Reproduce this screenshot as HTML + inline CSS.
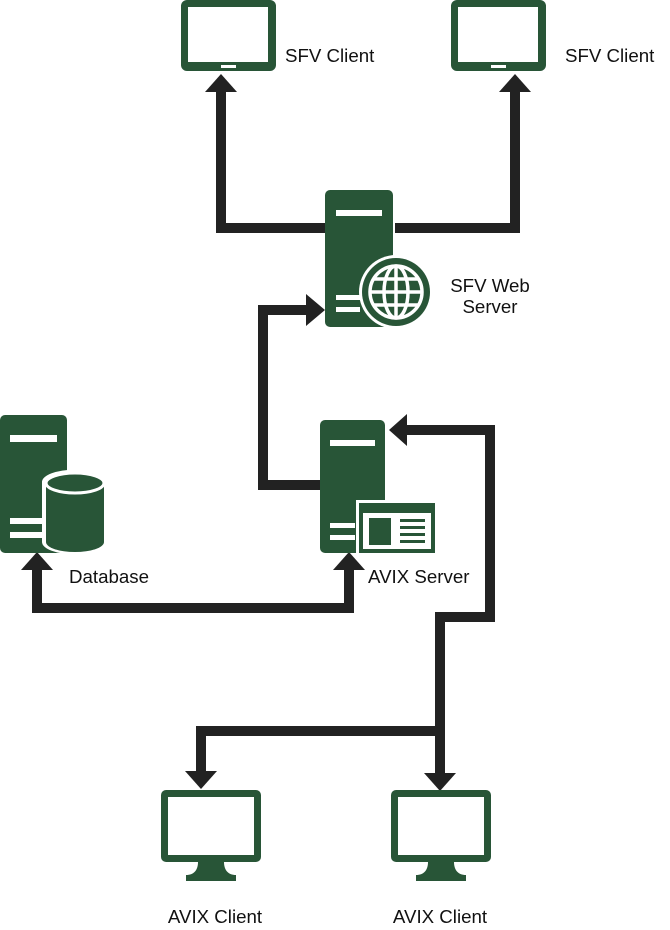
<!DOCTYPE html>
<html><head><style>
body{margin:0;background:#fff;}
svg{display:block;}
text{font-family:"Liberation Sans",sans-serif;font-size:18.7px;fill:#111;}
</style></head><body>
<svg width="670" height="930" viewBox="0 0 670 930" xmlns="http://www.w3.org/2000/svg">
<g fill="none" stroke="#222" stroke-width="10">
<polyline points="327,228 221,228 221,88"/>
<polyline points="395,228 515,228 515,88"/>
<polyline points="320,485 263,485 263,310 308,310"/>
<polyline points="37,568 37,608 349,608 349,568"/>
<polyline points="405,430 490,430 490,617 440,617 440,775"/>
<polyline points="440,731 201,731 201,772"/>
</g>
<g fill="#222">
<polygon points="221,74 205,92 237,92"/>
<polygon points="515,74 499,92 531,92"/>
<polygon points="325,310 306,294 306,326"/>
<polygon points="37,552 21,570 53,570"/>
<polygon points="349,552 333,570 365,570"/>
<polygon points="389,430 407,414 407,446"/>
<polygon points="440,791 424,773 456,773"/>
<polygon points="201,789 185,771 217,771"/>
</g>
<g fill="#285537">
<rect x="181" y="0" width="95" height="71" rx="6"/>
<rect x="451" y="0" width="95" height="71" rx="6"/>
<rect x="325" y="190" width="68" height="137" rx="5"/>
<rect x="320" y="420" width="65" height="133" rx="5"/>
<rect x="0" y="415" width="67" height="138" rx="5"/>
<rect x="161" y="790" width="100" height="72" rx="5"/>
<rect x="391" y="790" width="100" height="72" rx="5"/>
</g>
<g fill="#fff">
<rect x="188" y="7" width="80" height="55"/>
<rect x="458" y="7" width="80" height="55"/>
<rect x="221" y="65" width="15" height="3"/>
<rect x="491" y="65" width="15" height="3"/>
<rect x="336" y="210" width="46" height="6"/>
<rect x="336" y="295" width="24" height="5"/>
<rect x="336" y="307" width="24" height="5"/>
<rect x="330" y="440" width="45" height="6"/>
<rect x="330" y="523" width="25" height="5"/>
<rect x="330" y="535" width="25" height="5"/>
<rect x="10" y="435" width="47" height="7"/>
<rect x="10" y="518" width="35" height="6"/>
<rect x="10" y="532" width="35" height="6"/>
<rect x="168" y="797" width="86" height="58"/>
<rect x="398" y="797" width="86" height="58"/>
</g>
<g fill="#285537">
<path d="M198,862 h26 c0,8 4,13 12,13 v6 h-50 v-6 c8,0 12,-5 12,-13z"/>
<path d="M428,862 h26 c0,8 4,13 12,13 v6 h-50 v-6 c8,0 12,-5 12,-13z"/>
</g>
<circle cx="396" cy="292" r="37" fill="#fff"/>
<circle cx="396" cy="292" r="34" fill="#285537"/>
<g fill="none" stroke="#fff" stroke-width="3.5">
<circle cx="396" cy="292" r="26"/>
<ellipse cx="396" cy="292" rx="12" ry="26"/>
<line x1="396" y1="266" x2="396" y2="318"/>
<line x1="370" y1="292" x2="422" y2="292"/>
<line x1="374" y1="279" x2="418" y2="279"/>
<line x1="374" y1="305" x2="418" y2="305"/>
</g>
<path d="M42,482 a32,12 0 0 1 66,0 v60 a32,12 0 0 1 -66,0z" fill="#fff"/>
<path d="M46,482 a29,10 0 0 1 58,0 v60 a29,10 0 0 1 -58,0z" fill="#285537"/>
<ellipse cx="75" cy="483" rx="29" ry="10" fill="none" stroke="#fff" stroke-width="3"/>
<rect x="356" y="500" width="80" height="55" fill="#fff"/>
<rect x="359" y="503" width="76" height="50" fill="#285537"/>
<rect x="363" y="513" width="68" height="36" fill="#fff"/>
<rect x="369" y="518" width="22" height="27" fill="#285537"/>
<g fill="#285537"><rect x="400" y="519" width="25" height="3"/><rect x="400" y="526" width="25" height="3"/><rect x="400" y="533" width="25" height="3"/><rect x="400" y="540" width="25" height="3"/></g>
<text x="285" y="62">SFV Client</text>
<text x="565" y="62">SFV Client</text>
<text x="490" y="292" text-anchor="middle">SFV Web</text>
<text x="490" y="313" text-anchor="middle">Server</text>
<text x="69" y="583">Database</text>
<text x="368" y="583">AVIX Server</text>
<text x="215" y="923" text-anchor="middle">AVIX Client</text>
<text x="440" y="923" text-anchor="middle">AVIX Client</text>
</svg>
</body></html>
